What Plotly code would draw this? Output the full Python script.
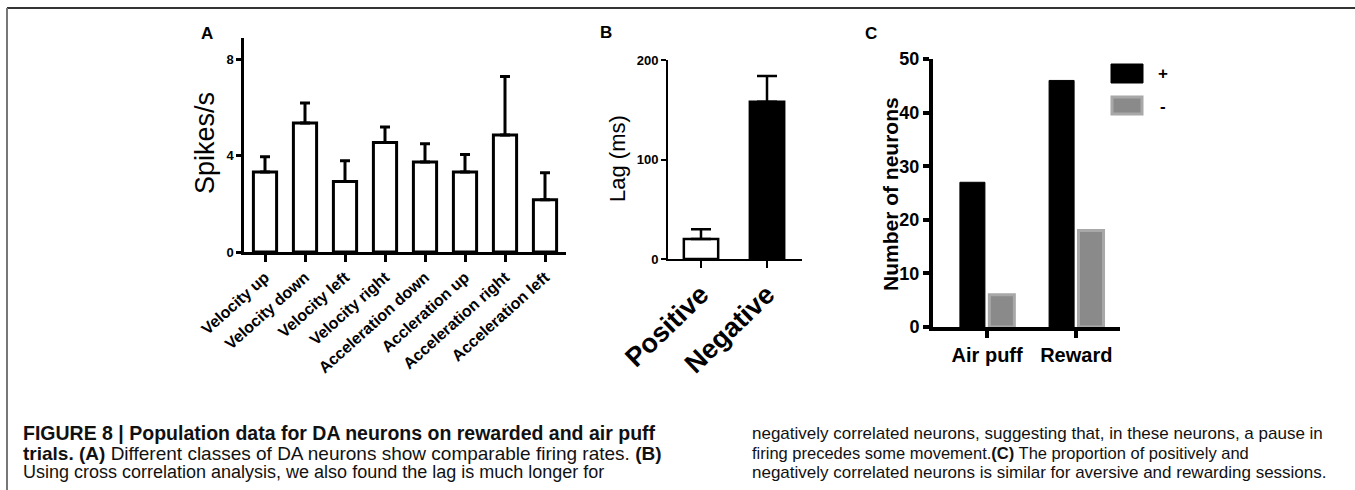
import plotly.graph_objects as go

W, H = 1355, 490

# ---- data ----
a_categories = ["Velocity up", "Velocity down", "Velocity left", "Velocity right",
                "Acceleration down", "Accleration up", "Acceleration right", "Acceleration left"]
a_values = [3.33, 5.37, 2.93, 4.55, 3.74, 3.33, 4.87, 2.17]
a_errors = [0.63, 0.83, 0.87, 0.65, 0.76, 0.72, 2.43, 1.13]
a_ticks = [0, 4, 8]

b_categories = ["Positive", "Negative"]
b_values = [20, 158]
b_errors = [10, 26]
b_ticks = [0, 100, 200]

c_categories = ["Air puff", "Reward"]
c_plus = [27, 46]
c_minus = [6, 18]
c_ticks = [0, 10, 20, 30, 40, 50]
c_series_names = ["+", "-"]

caption_left = [
    "<b>FIGURE 8 | Population data for DA neurons on rewarded and air puff</b>",
    "<b>trials. (A)</b> Different classes of DA neurons show comparable firing rates. <b>(B)</b>",
    "Using cross correlation analysis, we also found the lag is much longer for",
]
caption_right = [
    "negatively correlated neurons, suggesting that, in these neurons, a pause in",
    "firing precedes some movement.<b>(C)</b> The proportion of positively and",
    "negatively correlated neurons is similar for aversive and rewarding sessions.",
]


def px_x(p):
    return p / W


def px_y(p):
    return 1 - p / H


FONT = "Liberation Sans, Arial, sans-serif"
fig = go.Figure()

# Panel A
fig.add_trace(go.Bar(
    x=a_categories, y=a_values, xaxis="x", yaxis="y",
    marker=dict(color="white", line=dict(color="black", width=3)),
    width=0.58,
    error_y=dict(type="data", array=a_errors, arrayminus=[0] * len(a_errors),
                 symmetric=False, color="black", thickness=3, width=5),
    showlegend=False,
))

# Panel B
fig.add_trace(go.Bar(
    x=b_categories, y=b_values, xaxis="x2", yaxis="y2",
    marker=dict(color=["white", "black"], line=dict(color="black", width=2.5)),
    width=0.52,
    error_y=dict(type="data", array=b_errors, arrayminus=[0] * len(b_errors),
                 symmetric=False, color="black", thickness=2.5, width=10),
    showlegend=False,
))

# Panel C
fig.add_trace(go.Bar(
    x=c_categories, y=c_plus, xaxis="x3", yaxis="y3", name=c_series_names[0],
    marker=dict(color="black", line=dict(color="black", width=1)),
    showlegend=False, offsetgroup="p",
))
fig.add_trace(go.Bar(
    x=c_categories, y=c_minus, xaxis="x3", yaxis="y3", name=c_series_names[1],
    marker=dict(color="#8a8a8a", line=dict(color="#a8a8a8", width=3)),
    showlegend=False, offsetgroup="m",
))

axis_common = dict(showgrid=False, zeroline=False, showline=True, linecolor="black",
                   ticks="outside", tickcolor="black", fixedrange=True, automargin=False)

fig.update_layout(
    width=W, height=H, autosize=False,
    margin=dict(l=0, r=0, t=0, b=0, pad=0, autoexpand=False),
    paper_bgcolor="white", plot_bgcolor="white",
    showlegend=False,
    barmode="group", bargap=0.34, bargroupgap=0.15,
    font=dict(family=FONT, color="black"),
    xaxis=dict(domain=[px_x(244), px_x(566)], anchor="y", range=[-0.525, 7.525],
               linewidth=2.5, tickwidth=2.5, ticklen=7,
               tickangle=-42, tickfont=dict(size=16, weight="bold"), **axis_common),
    yaxis=dict(domain=[px_y(252), px_y(38)], anchor="x", range=[0, 8.9],
               tickvals=a_ticks, linewidth=2.5, tickwidth=2.5, ticklen=5,
               tickfont=dict(size=13, weight="bold"), **axis_common),
    xaxis2=dict(domain=[px_x(668), px_x(802)], anchor="y2", range=[-0.5, 1.53],
                linewidth=2, tickwidth=2, ticklen=7,
                tickangle=-44, tickfont=dict(size=27, weight="bold"), **axis_common),
    yaxis2=dict(domain=[px_y(259), px_y(60)], anchor="x2", range=[0, 200],
                tickvals=b_ticks, linewidth=2, tickwidth=2, ticklen=5,
                tickfont=dict(size=13, weight="bold"), **axis_common),
    xaxis3=dict(domain=[px_x(933), px_x(1120)], anchor="y3", range=[-0.607, 1.49],
                linewidth=4, tickwidth=4, ticklen=7,
                tickangle=0, tickfont=dict(size=20, weight="bold"), **axis_common),
    yaxis3=dict(domain=[px_y(327), px_y(59)], anchor="x3", range=[0, 50],
                tickvals=c_ticks, linewidth=4, tickwidth=4, ticklen=6,
                tickfont=dict(size=18, weight="bold"), **axis_common),
)

ann = []
# axis titles
ann.append(dict(text="Spikes/s", x=px_x(205), y=px_y(143), textangle=-90,
                font=dict(size=27)))
ann.append(dict(text="Lag (ms)", x=px_x(617), y=px_y(159), textangle=-90,
                font=dict(size=22)))
ann.append(dict(text="<b>Number of neurons</b>", x=px_x(890), y=px_y(194), textangle=-90,
                font=dict(size=21)))
# panel letters
ann.append(dict(text="<b>A</b>", x=px_x(207), y=px_y(33), font=dict(size=17)))
ann.append(dict(text="<b>B</b>", x=px_x(606), y=px_y(32), font=dict(size=17)))
ann.append(dict(text="<b>C</b>", x=px_x(871), y=px_y(34), font=dict(size=17)))
# legend labels
ann.append(dict(text="<b>+</b>", x=px_x(1163), y=px_y(73), font=dict(size=17)))
ann.append(dict(text="<b>-</b>", x=px_x(1163), y=px_y(106), font=dict(size=17)))

for a in ann:
    a.update(xref="paper", yref="paper", showarrow=False, xanchor="center", yanchor="middle")

# caption, one annotation per line
line_y = [433, 453, 472]
left_sizes = [19.5, 19, 18]
right_sizes = [17, 16.5, 17]
for lines, x0, sizes in [(caption_left, 21, left_sizes), (caption_right, 750, right_sizes)]:
    for txt, yy, fs in zip(lines, line_y, sizes):
        ann.append(dict(text=txt, x=px_x(x0), y=px_y(yy), xref="paper", yref="paper",
                        showarrow=False, xanchor="left", yanchor="middle", align="left",
                        font=dict(size=fs, color="#111")))

fig.update_layout(annotations=ann)

shapes = [
    # legend swatches
    dict(type="rect", xref="paper", yref="paper", x0=px_x(1111), x1=px_x(1143),
         y0=px_y(83), y1=px_y(64), fillcolor="black", line=dict(color="black", width=1)),
    dict(type="rect", xref="paper", yref="paper", x0=px_x(1112), x1=px_x(1142),
         y0=px_y(114), y1=px_y(97), fillcolor="#8a8a8a", line=dict(color="#a8a8a8", width=3)),
    # frame
    dict(type="line", xref="paper", yref="paper", x0=px_x(7), x1=1, y0=px_y(8), y1=px_y(8),
         line=dict(color="#333333", width=2)),
    dict(type="line", xref="paper", yref="paper", x0=px_x(7), x1=px_x(7), y0=px_y(8), y1=0,
         line=dict(color="#777777", width=2)),
]
fig.update_layout(shapes=shapes)

fig.write_html("out.html", config={"responsive": False, "displayModeBar": False},
               post_script="document.body.style.margin='0';document.body.style.overflow='hidden';")
